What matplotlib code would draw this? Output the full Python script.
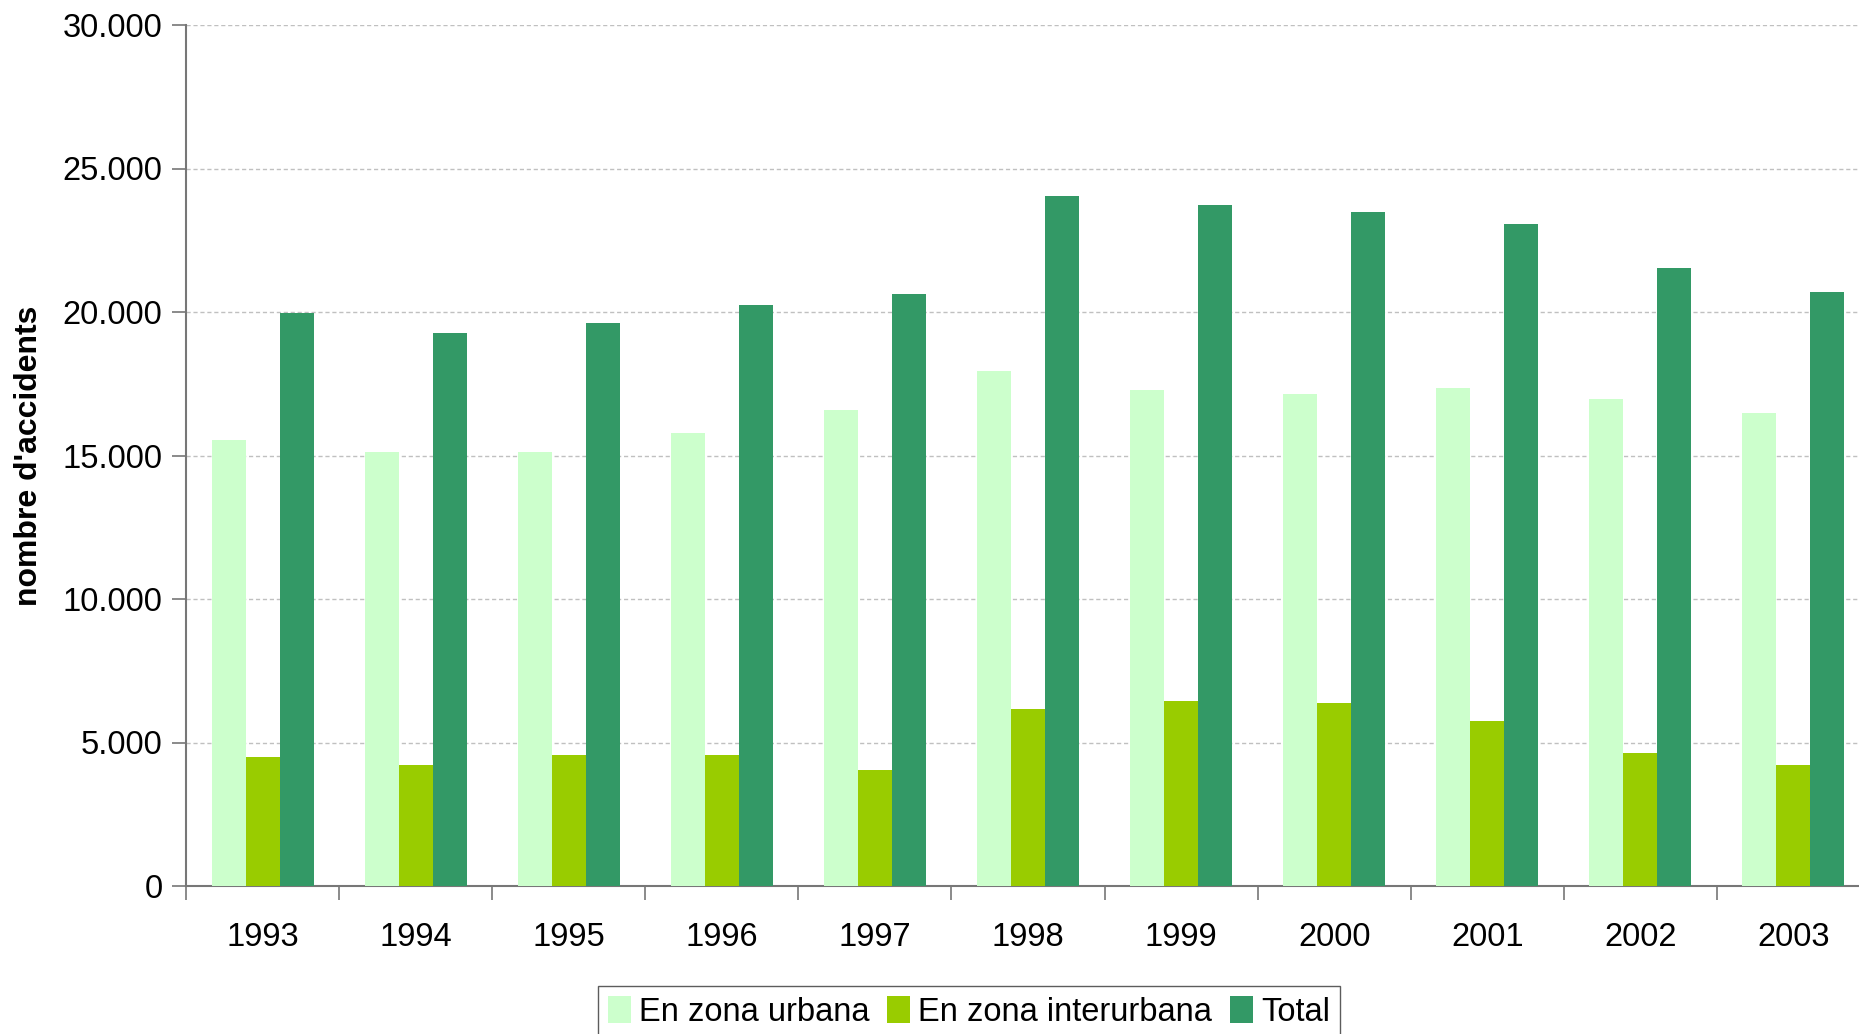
import matplotlib
matplotlib.use("Agg")
import matplotlib.pyplot as plt
import numpy as np
from matplotlib.ticker import FuncFormatter, FixedLocator

plt.rcParams['font.family'] = ['Liberation Sans', 'DejaVu Sans']

years = ["1993", "1994", "1995", "1996", "1997", "1998", "1999", "2000", "2001", "2002", "2003"]
urbana = [15540, 15120, 15120, 15790, 16570, 17930, 17270, 17150, 17360, 16970, 16480]
interurbana = [4500, 4220, 4550, 4550, 4050, 6160, 6450, 6360, 5740, 4630, 4220]
total = [19965, 19265, 19600, 20250, 20620, 24050, 23720, 23470, 23060, 21530, 20700]
series_names = ["En zona urbana", "En zona interurbana", "Total"]
colors = ["#CCFFCC", "#99CC00", "#339966"]

fig = plt.figure(figsize=(18.59, 10.34), dpi=100)
ax = fig.add_axes([186/1859, 1-886/1034, 1684/1859, 861/1034])

x = np.arange(len(years))
w = 0.222
for i, (vals, name, c) in enumerate(zip([urbana, interurbana, total], series_names, colors)):
    ax.bar(x + (i-1)*w, vals, width=w, color=c, label=name, zorder=3, linewidth=0)

ax.set_xlim(-0.5, len(years)-0.5)
ax.set_ylim(0, 30000)
ax.set_yticks(np.arange(0, 30001, 5000))
ax.yaxis.set_major_formatter(FuncFormatter(lambda v, p: f"{int(v):,}".replace(",", ".")))
ax.grid(axis='y', color='#c0c0c0', linestyle=(0, (3, 2)), linewidth=1, zorder=0)

ax.xaxis.set_major_locator(FixedLocator(np.arange(-0.5, len(years), 1.0)))
ax.xaxis.set_minor_locator(FixedLocator(x))
ax.set_xticklabels([])
ax.set_xticklabels(years, minor=True)
ax.tick_params(axis='x', which='major', length=10, width=1.2, color='#777777', direction='out')
ax.tick_params(axis='x', which='minor', length=0, pad=26, labelsize=23.5)
ax.tick_params(axis='y', length=10, width=1.2, color='#777777', direction='out', pad=7, labelsize=23.5)

for s in ['top', 'right']:
    ax.spines[s].set_visible(False)
for s in ['left', 'bottom']:
    ax.spines[s].set_color('#777777')
    ax.spines[s].set_linewidth(1.5)

ax.set_ylabel("nombre d'accidents", fontsize=23, fontweight='bold')
ax.yaxis.set_label_coords((44-186)/1684, 0.5)

leg = fig.legend(loc='upper left', bbox_to_anchor=(598/1859, 1-986/1034), ncol=3,
                 fontsize=23.5, frameon=True, fancybox=False, edgecolor='#333333',
                 handlelength=0.7, handleheight=0.9, handletextpad=0.25, columnspacing=0.55,
                 borderpad=0.3, borderaxespad=0)
leg.get_frame().set_linewidth(1.0)

fig.savefig("out.png", dpi=100)
